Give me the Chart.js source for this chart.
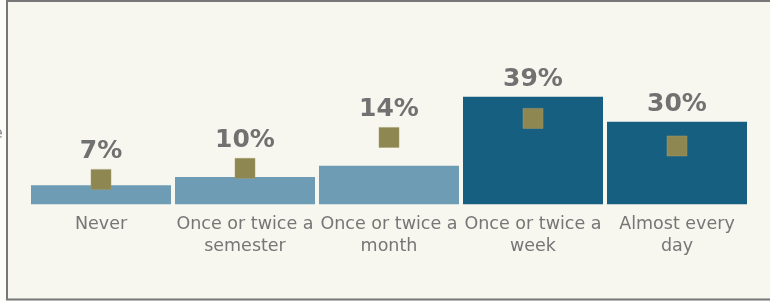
<!DOCTYPE html>
<html>
<head>
<meta charset="utf-8">
<script src="https://cdn.jsdelivr.net/npm/chart.js@4/dist/chart.umd.min.js"></script>
<style>
html,body{margin:0;padding:0;background:#fbfbf8;}
#wrap{width:770px;height:301px;position:relative;}
canvas{display:block;}
</style>
</head>
<body>
<div id="wrap"><canvas id="c" width="770" height="301"></canvas></div>
<script>
const categories = [["Never"], ["Once or twice a", "semester"], ["Once or twice a", "month"], ["Once or twice a", "week"], ["Almost every", "day"]];
const barValues = [7, 10, 14, 39, 30];
const markerValues = [9.1, 13.1, 24.3, 31.2, 21.2];
const barLabels = ["7%", "10%", "14%", "39%", "30%"];
const barColors = ["#6d9cb4", "#6d9cb4", "#6d9cb4", "#165f80", "#165f80"];

const bgPlugin = {
  id: 'bg',
  beforeDraw(chart) {
    const ctx = chart.ctx;
    ctx.save();
    ctx.fillStyle = '#fbfbf8';
    ctx.fillRect(0, 0, chart.width, chart.height);
    ctx.fillStyle = '#f7f6ef';
    ctx.fillRect(7, 1, chart.width - 7, 298);
    ctx.strokeStyle = '#777777';
    ctx.lineWidth = 2;
    ctx.beginPath();
    ctx.moveTo(chart.width + 2, 1);
    ctx.lineTo(7, 1);
    ctx.lineTo(7, 299.5);
    ctx.lineTo(chart.width + 2, 299.5);
    ctx.stroke();
    ctx.fillStyle = '#8a8a8a';
    ctx.font = '16px "DejaVu Sans"';
    ctx.textAlign = 'left';
    ctx.textBaseline = 'middle';
    ctx.fillText('e', -7, 134);
    ctx.restore();
  }
};

const labelPlugin = {
  id: 'vlabels',
  afterDatasetsDraw(chart) {
    const ctx = chart.ctx;
    const bars = chart.getDatasetMeta(0).data;
    const pts = chart.getDatasetMeta(1).data;
    ctx.save();
    ctx.fillStyle = '#717171';
    ctx.font = 'bold 25px "DejaVu Sans"';
    ctx.textAlign = 'center';
    ctx.textBaseline = 'alphabetic';
    bars.forEach((b, i) => {
      const top = Math.min(b.y, pts[i].y - 10);
      ctx.fillText(barLabels[i], b.x, top - 11);
    });
    ctx.restore();
  }
};

new Chart(document.getElementById('c'), {
  type: 'bar',
  data: {
    labels: categories,
    datasets: [
      {
        type: 'bar',
        data: barValues,
        backgroundColor: barColors,
        borderWidth: 0,
        barPercentage: 140 / 144,
        categoryPercentage: 1,
        order: 1
      },
      {
        type: 'line',
        data: markerValues,
        showLine: false,
        pointStyle: 'rect',
        pointRadius: 14.14,
        pointHoverRadius: 14.14,
        pointBackgroundColor: '#8f8752',
        pointBorderColor: '#a39c6c',
        pointBorderWidth: 0.5,
        order: 0
      }
    ]
  },
  options: {
    responsive: false,
    animation: false,
    events: [],
    layout: { padding: { left: 29, right: 21, top: 66.5, bottom: 0 } },
    plugins: { legend: { display: false }, tooltip: { enabled: false } },
    scales: {
      y: { display: false, min: 0, max: 50 },
      x: {
        grid: { display: false, drawTicks: false },
        border: { display: false },
        ticks: {
          color: '#767676',
          font: { family: '"DejaVu Sans"', size: 17.5, lineHeight: 1.27 },
          padding: 9,
          maxRotation: 0,
          autoSkip: false
        },
        afterFit(scale) { scale.height = 96.5; }
      }
    }
  },
  plugins: [bgPlugin, labelPlugin]
});
</script>
</body>
</html>
